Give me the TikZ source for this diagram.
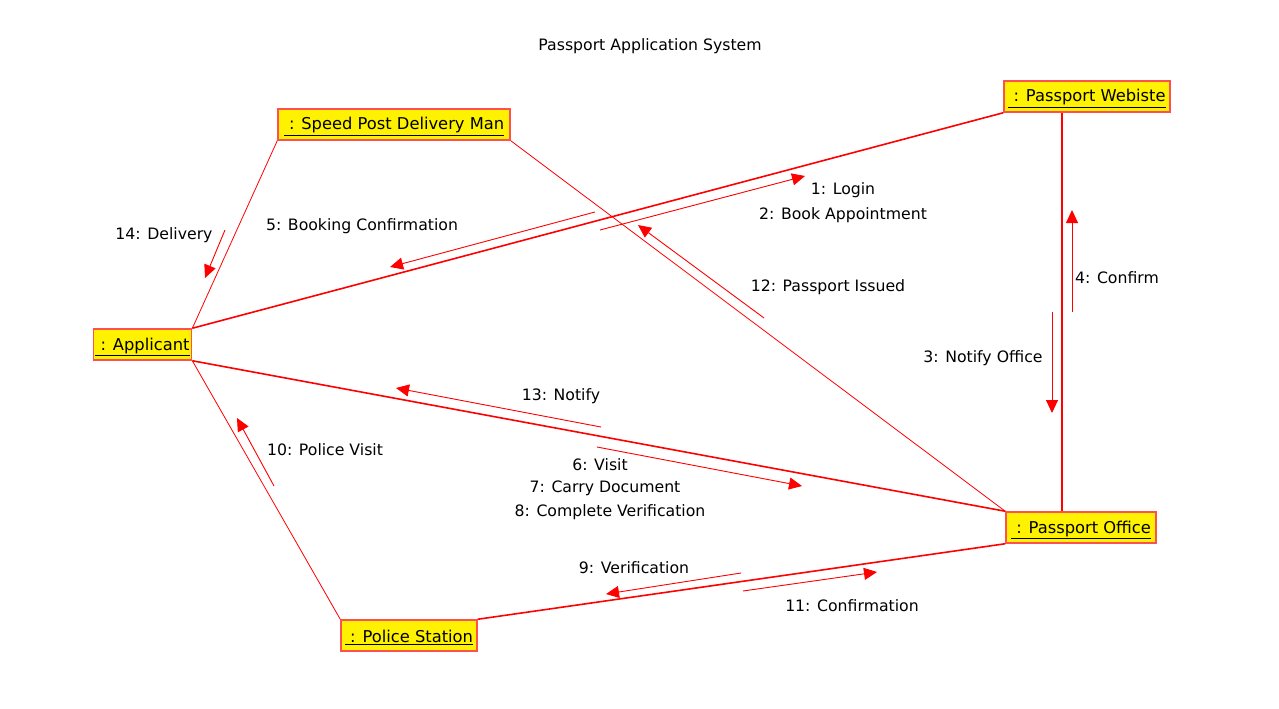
\documentclass[tikz,border=0pt]{standalone}
\usepackage{fontspec}
\setmainfont{DejaVu Sans}
\usetikzlibrary{arrows.meta}

\definecolor{boxred}{RGB}{255,80,80}
\newcommand{\objname}[1]{\raisebox{-2pt}[\height][\depth]{\underline{\ #1}}}
\tikzset{
    object/.style={draw=boxred, line width=1.5pt, fill=yellow, minimum height=31pt, inner xsep=2pt, font=\fontsize{16.3}{18}\selectfont},
    link/.style={red, line width=0.8pt},
    strong link/.style={red, line width=1.6pt},
    message/.style={red, line width=0.9pt, -{Triangle[length=13pt, width=12pt]}},
    msglabel/.style={yshift=-2pt, font=\fontsize{15.7}{18}\selectfont},
}

\begin{document}
\begin{tikzpicture}[x=1pt, y=-1pt]
        \useasboundingbox[fill=white] (0, 0) rectangle (1279, 709);

        \node[msglabel] (title) at (650, 44) {Passport Application System};

        % objects
        \node[object, minimum width=97pt] (applicant) at (142.5, 344.5) {\objname{: Applicant}};
        \node[object, minimum width=232pt] (speedpost) at (394, 124.5) {\objname{: Speed Post Delivery Man}};
        \node[object, minimum width=166pt] (website) at (1087, 96.5) {\objname{: Passport Webiste}};
        \node[object, minimum width=150pt] (office) at (1081, 527.5) {\objname{: Passport Office}};
        \node[object, minimum width=136pt] (police) at (409, 635.5) {\objname{: Police Station}};

        % links
        \draw[strong link] (applicant.north east) -- (website.south west);
        \draw[link] (applicant.north east) -- (speedpost.south west);
        \draw[link] (applicant.south east) -- (police.north west);
        \draw[strong link] (applicant.south east) -- (office.north west);
        \draw[link] (speedpost.south east) -- (office.north west);
        \draw[strong link] ([xshift=-25pt] website.south) -- ([xshift=-19pt] office.north);
        \draw[strong link] (police.north east) -- (office.south west);

        % messages
        \coordinate (m1s) at (600, 230);  \coordinate (m1e) at (805, 176);
        \coordinate (m5s) at (595, 212);  \coordinate (m5e) at (390, 267);
        \coordinate (m12s) at (764, 318); \coordinate (m12e) at (638, 225);
        \coordinate (m14s) at (225, 230); \coordinate (m14e) at (205, 278);
        \coordinate (m4s) at (1072, 312); \coordinate (m4e) at (1072, 210);
        \coordinate (m3s) at (1052, 312); \coordinate (m3e) at (1052, 413);
        \coordinate (m13s) at (601, 427); \coordinate (m13e) at (396, 388);
        \coordinate (m6s) at (597, 447);  \coordinate (m6e) at (802, 486);
        \coordinate (m10s) at (274, 486); \coordinate (m10e) at (237, 418);
        \coordinate (m9s) at (741, 573);  \coordinate (m9e) at (606, 594);
        \coordinate (m11s) at (743, 591); \coordinate (m11e) at (877, 572);

        \foreach \m in {1, 5, 12, 14, 4, 3, 13, 6, 10, 9, 11}
            \draw[message] (m\m s) -- (m\m e);

        \node[msglabel] (l1) at (843, 188) {1: Login};
        \node[msglabel] (l2) at (843, 213) {2: Book Appointment};
        \node[msglabel] (l5) at (362, 224) {5: Booking Confirmation};
        \node[msglabel] (l12) at (828, 285) {12: Passport Issued};
        \node[msglabel] (l14) at (164, 233) {14: Delivery};
        \node[msglabel] (l4) at (1117, 276) {4: Confirm};
        \node[msglabel] (l3) at (983, 356) {3: Notify Office};
        \node[msglabel] (l13) at (561, 394) {13: Notify};
        \node[msglabel] (l6) at (600, 463) {6: Visit};
        \node[msglabel] (l7) at (605, 486) {7: Carry Document};
        \node[msglabel] (l8) at (610, 510) {8: Complete Verification};
        \node[msglabel] (l10) at (325, 448) {10: Police Visit};
        \node[msglabel] (l9) at (634, 566) {9: Verification};
        \node[msglabel] (l11) at (852, 604) {11: Confirmation};
    \end{tikzpicture}
\end{document}
